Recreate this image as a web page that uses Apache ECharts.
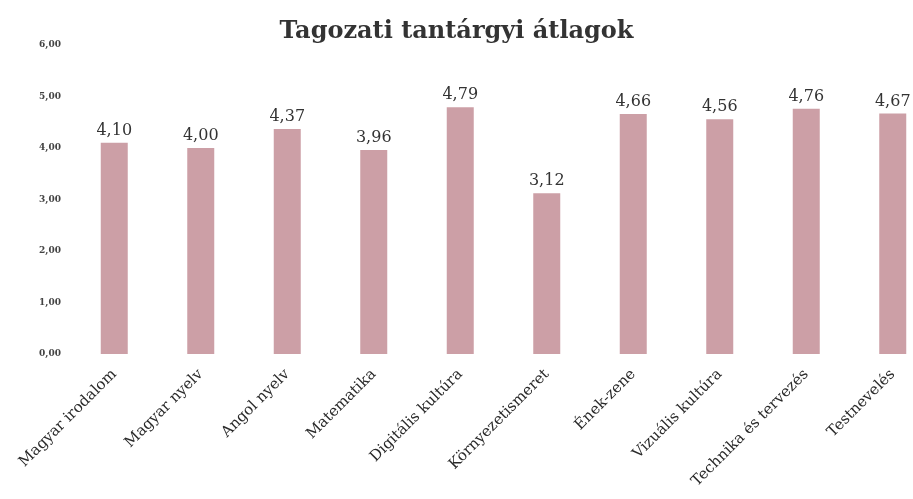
<!DOCTYPE html>
<html>
<head>
<meta charset="utf-8">
<script src="https://cdn.jsdelivr.net/npm/echarts@6/dist/echarts.min.js"></script>
<style>
  html, body { margin: 0; padding: 0; background: #fff; }
  #chart { width: 913px; height: 499px; }
</style>
</head>
<body>
<div id="chart"></div>
<script>
// tantárgyak és átlagok
var subjects = ['Magyar irodalom', 'Magyar nyelv', 'Angol nyelv', 'Matematika', 'Digitális kultúra',
  'Környezetismeret', 'Ének-zene', 'Vizuális kultúra', 'Technika és tervezés', 'Testnevelés'];
var averages = [4.10, 4.00, 4.37, 3.96, 4.79, 3.12, 4.66, 4.56, 4.76, 4.67];
var tickLabels = ['0,00', '1,00', '2,00', '3,00', '4,00', '5,00', '6,00'];

var serif = '"DejaVu Serif", "Liberation Serif", serif';

var chart = echarts.init(document.getElementById('chart'));
chart.setOption({
  animation: false,
  backgroundColor: '#fff',
  title: {
    text: 'Tagozati tantárgyi átlagok',
    left: 'center',
    top: 15,
    textStyle: { fontFamily: serif, fontWeight: 'bold', fontSize: 24, color: '#333' }
  },
  // a jobb szél kilóg a képből, ezért fix szélesség
  grid: { left: 71, width: 865, top: 45, bottom: 145, outerBoundsMode: 'none' },
  xAxis: {
    type: 'category',
    data: subjects,
    axisLine: { show: false },
    axisTick: { show: false },
    axisLabel: {
      interval: 0,
      rotate: 45,
      margin: 18,
      fontFamily: serif,
      fontSize: 15,
      color: '#2a2a2a'
    }
  },
  yAxis: {
    type: 'value',
    min: 0,
    max: 6,
    interval: 1,
    axisLine: { show: false },
    axisTick: { show: false },
    splitLine: { show: false },
    axisLabel: {
      margin: 10,
      fontFamily: serif,
      fontSize: 9,
      fontWeight: 'bold',
      color: '#444',
      formatter: function (v) { return tickLabels[Math.round(v)]; }
    }
  },
  series: [{
    type: 'bar',
    data: averages,
    barWidth: 27,
    itemStyle: { color: '#cc9fa6' },
    label: {
      show: true,
      position: 'top',
      distance: 4,
      fontFamily: serif,
      fontSize: 16,
      color: '#333',
      formatter: function (p) { return p.value.toFixed(2).replace('.', ','); }
    }
  }]
});
</script>
</body>
</html>
